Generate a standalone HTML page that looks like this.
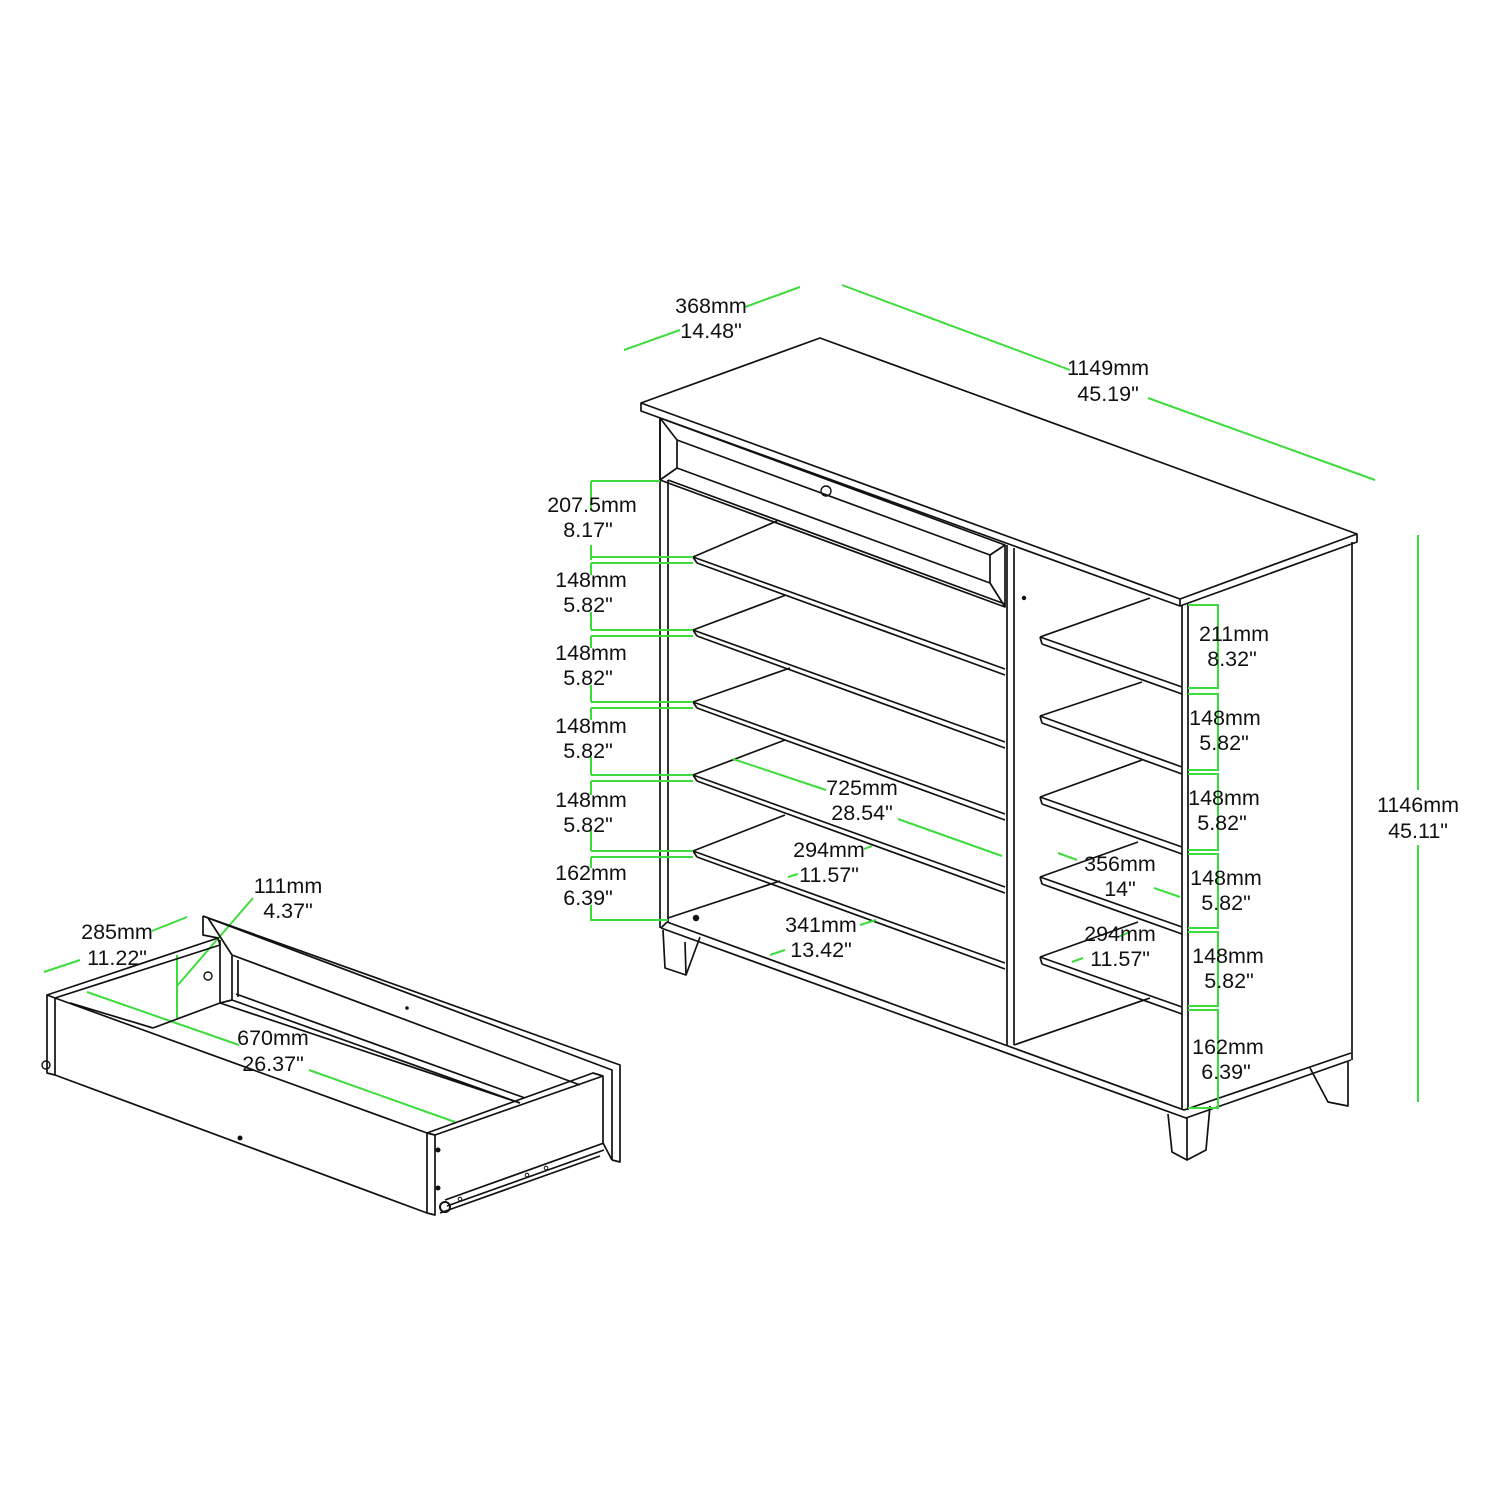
<!DOCTYPE html>
<html><head><meta charset="utf-8"><style>
html,body{margin:0;padding:0;background:#fff;}
svg{display:block;}
text{font-family:"Liberation Sans",sans-serif;font-size:21.5px;fill:#111;text-anchor:middle;}
.k{stroke:#111;stroke-width:1.7;fill:none;stroke-linejoin:round;}
.g{stroke:#3ddc3d;stroke-width:2;fill:none;}
</style></head><body>
<svg width="1500" height="1500" viewBox="0 0 1500 1500" xmlns="http://www.w3.org/2000/svg">
<rect width="1500" height="1500" fill="#fff"/>
<g class="k">
<path d="M641,403 L820,338 L1357,534 L1180,599 Z"/>
<path d="M641,403 L641,411 L1180,606 L1357,542 L1357,534"/>
<path d="M1180,599 L1180,606"/>
<path d="M660,418 L660,928"/>
<path d="M668,480 L668,922"/>
<path d="M660,418 L1005,545 L1005,607 L660,480 Z"/>
<path d="M677,440 L990,555 L990,583 L677,468 Z"/>
<path d="M660,418 L677,440 M660,480 L677,468 M1005,545 L990,555 M1005,607 L990,583"/>
<path d="M668,480 L1005,604"/>
<path d="M1007,545 L1007,1045 M1014,548 L1014,1045"/>
<path d="M1182,606 L1182,1110 M1188,604 L1188,1110"/>
<path d="M1352,542 L1352,1060"/>
<path d="M661,928 L1186,1118 L1351,1060 M667,922 L1184,1110 L1351,1053"/>
<path d="M661,928 L667,922"/>
<path d="M668,918 L780,881"/>
<path d="M1014,1045 L1150,998"/>
<path d="M663,930 L665,968 L686,975 L700,937"/>
<path d="M686,975 L685,942"/>
<path d="M1168,1114 L1172,1152 L1187,1160 L1206,1150 L1210,1106"/>
<path d="M1187,1160 L1187,1118"/>
<path d="M1310,1068 L1328,1102 L1348,1106 L1348,1062"/>
<path d="M693,557 L777,521 M693,557 L1005,669 M697,563 L1005,675 M693,557 L697,563"/>
<path d="M693,630 L786,595 M693,630 L1005,742 M697,636 L1005,748 M693,630 L697,636"/>
<path d="M693,702 L790,668 M693,702 L1005,814 M697,708 L1005,820 M693,702 L697,708"/>
<path d="M693,775 L785,740 M693,775 L1005,887 M697,781 L1005,893 M693,775 L697,781"/>
<path d="M693,851 L785,815 M693,851 L1005,963 M697,857 L1005,969 M693,851 L697,857"/>
<path d="M1040,637 L1150,598 M1040,637 L1182,687 M1042,644 L1182,694 M1040,637 L1042,644"/>
<path d="M1040,716 L1142,682 M1040,716 L1182,767 M1042,723 L1182,774 M1040,716 L1042,723"/>
<path d="M1040,797 L1142,760 M1040,797 L1182,847 M1042,804 L1182,854 M1040,797 L1042,804"/>
<path d="M1040,877 L1138,842 M1040,877 L1182,927 M1042,884 L1182,934 M1040,877 L1042,884"/>
<path d="M1040,957 L1138,922 M1040,957 L1182,1007 M1042,964 L1182,1014 M1040,957 L1042,964"/>
</g>
<circle cx="826" cy="491" r="5" fill="none" stroke="#111" stroke-width="1.4"/>
<circle cx="1024" cy="598" r="2.2" fill="#111"/>
<circle cx="696" cy="918" r="3.2" fill="#111"/>

<g class="g">
<path d="M591,481 L591,510 M591,545 L591,560 M660,481 L591,481"/>
<path d="M591,557 L693,557 M591,563 L693,563 M591,563 L591,575 M591,612 L591,630"/>
<path d="M591,630 L693,630 M591,636 L693,636 M591,636 L591,648 M591,685 L591,702"/>
<path d="M591,702 L693,702 M591,708 L693,708 M591,708 L591,720 M591,757 L591,775"/>
<path d="M591,775 L693,775 M591,781 L693,781 M591,781 L591,795 M591,830 L591,851"/>
<path d="M591,851 L693,851 M591,857 L693,857 M591,857 L591,868 M591,905 L591,920 L668,920"/>
<path d="M1188,605 L1218,605 L1218,688 L1188,688 M1188,694 L1218,694 L1218,770 L1188,770 M1188,774 L1218,774 L1218,850 L1188,850 M1188,854 L1218,854 L1218,928 L1188,928 M1188,932 L1218,932 L1218,1006 L1188,1006 M1188,1010 L1218,1010 L1218,1108 L1188,1108"/>
<path d="M1418,535 L1418,790 M1418,845 L1418,1102"/>
<path d="M624,350 L680,330 M745,307 L800,287"/>
<path d="M842,285 L1070,370 M1148,398 L1375,480"/>
<path d="M733,759 L826,790 M898,819 L1002,856"/>
<path d="M872,846 L864,849 M788,877 L798,874"/>
<path d="M876,920 L860,925 M770,955 L785,950"/>
<path d="M1058,853 L1077,860 M1154,888 L1180,897"/>
<path d="M1130,932 L1118,937 M1072,962 L1083,958"/>
<path d="M44,972 L80,960 M152,931 L187,917"/>
<path d="M177,955 L177,1018 M177,986 L253,898"/>
<path d="M87,992 L239,1045 M309,1070 L455,1122"/>
</g>

<g fill="#111">
<text x="592" y="512">207.5mm</text><text x="588" y="537">8.17"</text>
<text x="591" y="587">148mm</text><text x="588" y="612">5.82"</text>
<text x="591" y="660">148mm</text><text x="588" y="685">5.82"</text>
<text x="591" y="733">148mm</text><text x="588" y="758">5.82"</text>
<text x="591" y="807">148mm</text><text x="588" y="832">5.82"</text>
<text x="591" y="880">162mm</text><text x="588" y="905">6.39"</text>
<text x="1234" y="641">211mm</text><text x="1232" y="666">8.32"</text>
<text x="1225" y="725">148mm</text><text x="1224" y="750">5.82"</text>
<text x="1224" y="805">148mm</text><text x="1222" y="830">5.82"</text>
<text x="1226" y="885">148mm</text><text x="1226" y="910">5.82"</text>
<text x="1228" y="963">148mm</text><text x="1229" y="988">5.82"</text>
<text x="1228" y="1054">162mm</text><text x="1226" y="1079">6.39"</text>
<text x="1418" y="812">1146mm</text><text x="1418" y="838">45.11"</text>
<text x="711" y="313">368mm</text><text x="711" y="338">14.48"</text>
<text x="1108" y="375">1149mm</text><text x="1108" y="401">45.19"</text>
<text x="862" y="795">725mm</text><text x="862" y="820">28.54"</text>
<text x="829" y="857">294mm</text><text x="829" y="882">11.57"</text>
<text x="821" y="932">341mm</text><text x="821" y="957">13.42"</text>
<text x="1120" y="871">356mm</text><text x="1120" y="896">14"</text>
<text x="1120" y="941">294mm</text><text x="1120" y="966">11.57"</text>
<text x="117" y="939">285mm</text><text x="117" y="965">11.22"</text>
<text x="288" y="893">111mm</text><text x="288" y="918">4.37"</text>
<text x="273" y="1045">670mm</text><text x="273" y="1071">26.37"</text>
</g>

<g class="k">
<path d="M47,995 L47,1073 L55,1075 L55,998 Z"/>
<path d="M55,998 L427,1133 M55,1075 L427,1213"/>
<path d="M427,1133 L435,1135 L435,1215 L427,1213 Z"/>
<path d="M47,995 L218,938 L220,945 L55,998"/>
<path d="M220,940 L220,1003"/>
<path d="M153,1028 L220,1003 L520,1103"/>
<path d="M70,1003 L153,1028"/>
<path d="M203,916 L620,1065 L620,1162 L612,1160"/>
<path d="M203,916 L203,935 L218,938 M203,916 L208,918 L232,955 L232,1000 L220,1003"/>
<path d="M208,918 L612,1070 L612,1160"/>
<path d="M232,955 L580,1085"/>
<path d="M238,960 L238,997"/>
<path d="M232,1000 L520,1103 M236,994 L525,1098"/>
<path d="M435,1135 L603,1076 L603,1143 M427,1133 L593,1073 L603,1076"/>
<path d="M603,1143 L612,1160"/>
<path d="M445,1200 L604,1143 M447,1206 L604,1150 M440,1213 L600,1156"/>
</g>
<circle cx="208" cy="976" r="4" fill="none" stroke="#111" stroke-width="1.4"/>
<circle cx="407" cy="1008" r="1.8" fill="#111"/>
<circle cx="240" cy="1138" r="2.5" fill="#111"/>
<circle cx="438" cy="1150" r="2.5" fill="#111"/>
<circle cx="438" cy="1188" r="2.5" fill="#111"/>
<circle cx="445" cy="1207" r="5" fill="none" stroke="#111" stroke-width="2"/>
<circle cx="46" cy="1065" r="4" fill="none" stroke="#111" stroke-width="1.4"/>
<circle cx="527" cy="1175" r="1.8" fill="none" stroke="#111"/>
<circle cx="546" cy="1168" r="1.8" fill="none" stroke="#111"/>
<circle cx="460" cy="1199" r="1.8" fill="none" stroke="#111"/>
</svg>
</body></html>
